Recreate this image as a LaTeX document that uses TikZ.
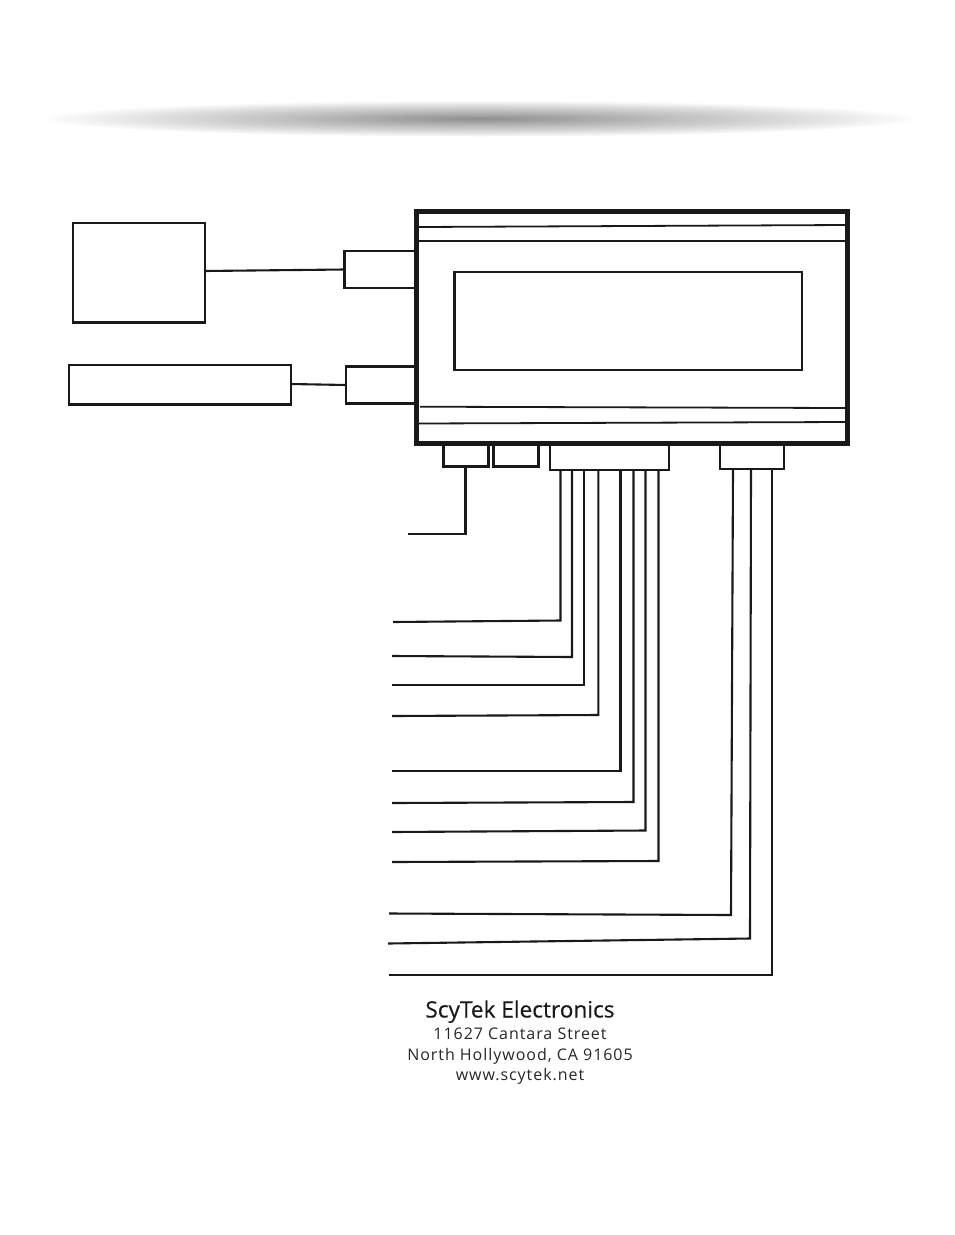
\documentclass[tikz,border=0pt]{standalone}
\usepackage{fontspec}
\usetikzlibrary{positioning}
\setmainfont{Open Sans}
\newfontfamily\brandfont[FakeBold=0.4]{Open Sans}
\newfontfamily\addrfont[LetterSpace=6]{Open Sans}
\pgfdeclareradialshading{haze}{\pgfpoint{0bp}{0bp}}{
  color(0bp)=(black!44);
  color(3bp)=(black!39);
  color(10bp)=(black!27);
  color(18bp)=(black!14);
  color(25bp)=(black!1);
  color(50bp)=(white)}

\begin{document}
\begin{tikzpicture}[x=1pt,y=-1pt]
\tikzstyle{unit}=[draw=black!90,anchor=north west,inner sep=0pt,outer sep=0pt,line width=2.4pt]
\tikzstyle{wire}=[draw=black!90,line width=2.1pt,line join=miter]
\tikzstyle{rule}=[draw=black!90,line width=1.8pt]
\tikzstyle{addr}=[text=black!85,font=\addrfont\fontsize{16}{20}\selectfont,inner sep=0pt,text height=12pt,text depth=4pt]
\useasboundingbox (0,0) rectangle (954,1235);

\shade[shading=haze] (480,118.5) ellipse [x radius=432, y radius=18];

\node[unit,minimum width=131.6pt,minimum height=99.4pt] (sensor) at (73.2,223.2) {};
\node[unit,minimum width=221.6pt,minimum height=39.4pt] (gauge) at (69.2,365.2) {};

\node[unit,minimum width=72pt,minimum height=37pt] (plugA) at (344.5,251) {};
\node[unit,minimum width=70.5pt,minimum height=37pt] (plugB) at (346,366.5) {};
\node[unit,line width=3pt,minimum width=45pt,minimum height=24pt] (plugC) at (443.5,442.5) {};
\node[unit,minimum width=45pt,minimum height=24pt] (plugD) at (493.5,442.5) {};
\node[unit,minimum width=119pt,minimum height=26pt] (plugE) at (550,444) {};
\node[unit,minimum width=64pt,minimum height=26pt] (plugF) at (720,443) {};

\node[unit,line width=5pt,minimum width=431pt,minimum height=232pt] (module) at (416.5,211.5) {};
\node[unit,minimum width=347.5pt,minimum height=98pt] (display) at (454.5,272) {};

\coordinate (railA1) at (419,227);
\coordinate (railA2) at (845,225);
\coordinate (railB1) at (419,240.7);
\coordinate (railB2) at (845,240.7);
\coordinate (railC1) at (420,406.7);
\coordinate (railC2) at (845,408);
\coordinate (railD1) at (419,423.5);
\coordinate (railD2) at (845,422);
\draw[rule] (railA1) -- (railA2);
\draw[rule] (railB1) -- (railB2);
\draw[rule] (railC1) -- (railC2);
\draw[rule] (railD1) -- (railD2);

\coordinate (sensorEnd) at (204,271);
\coordinate (plugAEnd) at (344,269.5);
\coordinate (gaugeEnd) at (291,384);
\coordinate (plugBEnd) at (346,385);
\draw[wire] (sensorEnd) -- (plugAEnd);
\draw[wire] (gaugeEnd) -- (plugBEnd);

\coordinate (c1) at (465.5,534);
\coordinate (e1) at (408,534);
\draw[wire] (plugC.south -| c1) -- (c1) -- (e1);

\foreach \id/\kx/\ky/\ex/\ey in {
  1/560.5/620.5/393/622,
  2/572/657/392/656,
  3/584/685/392/685,
  4/598.3/715/392/716,
  5/620.5/771/392/771,
  6/633.5/802/392/803,
  7/645.5/830.5/392/832,
  8/658.5/861/392/862}
{
  \coordinate (k\id) at (\kx,\ky);
  \coordinate (e\id) at (\ex,\ey);
  \draw[wire] (plugE.south -| k\id) -- (k\id) -- (e\id);
}

\coordinate (t9) at (733,470);
\coordinate (k9) at (731,915);
\coordinate (e9) at (389,913.5);
\coordinate (t10) at (751,470);
\coordinate (k10) at (750,938.5);
\coordinate (e10) at (388,943.5);
\coordinate (t11) at (772,470);
\coordinate (k11) at (772,975);
\coordinate (e11) at (389,975);
\draw[wire] (t9) -- (k9) -- (e9);
\draw[wire] (t10) -- (k10) -- (e10);
\draw[wire] (t11) -- (k11) -- (e11);

\node[text=black!90,font=\brandfont\fontsize{22.6}{26}\selectfont,inner sep=0pt,text height=16pt,text depth=5pt] (brand) at (520,1012) {ScyTek Electronics};
\node[addr,below=5pt of brand] (street) {11627 Cantara Street};
\node[addr,below=4pt of street] (city) {North Hollywood, CA 91605};
\node[addr,below=4pt of city] (site) {www.scytek.net};
\end{tikzpicture}
\end{document}
